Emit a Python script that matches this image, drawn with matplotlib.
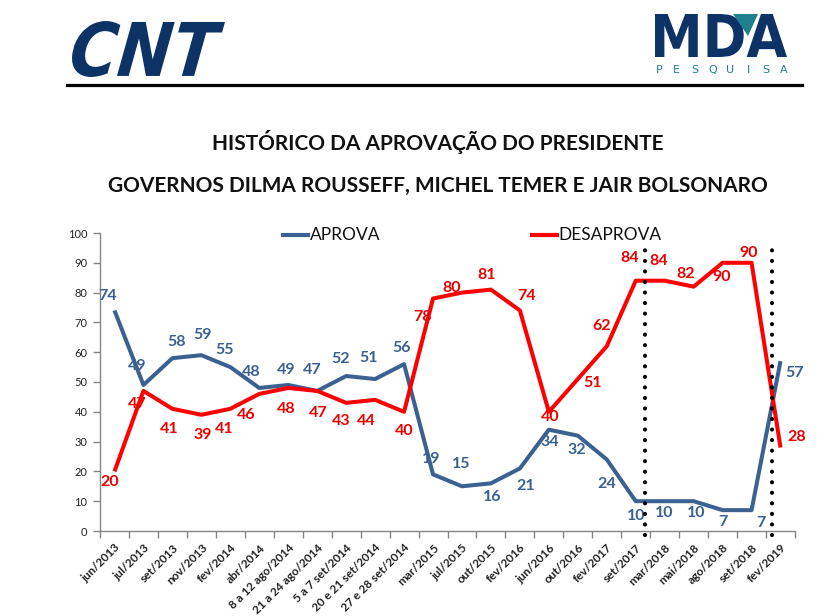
import matplotlib
matplotlib.use("Agg")
import matplotlib.pyplot as plt
from matplotlib.textpath import TextPath
from matplotlib.font_manager import FontProperties
from matplotlib.patches import PathPatch, Polygon
from matplotlib.lines import Line2D
from matplotlib.transforms import Affine2D

# ---------------- data ----------------
categories = ["jun/2013", "jul/2013", "set/2013", "nov/2013", "fev/2014", "abr/2014",
              "8 a 12 ago/2014", "21 a 24 ago/2014", "5 a 7 set/2014", "20 e 21 set/2014",
              "27 e 28 set/2014", "mar/2015", "jul/2015", "out/2015", "fev/2016", "jun/2016",
              "out/2016", "fev/2017", "set/2017", "mar/2018", "mai/2018", "ago/2018",
              "set/2018", "fev/2019"]
aprova = [74, 49, 58, 59, 55, 48, 49, 47, 52, 51, 56, 19, 15, 16, 21, 34, 32, 24, 10, 10, 10, 7, 7, 57]
desaprova = [20, 47, 41, 39, 41, 46, 48, 47, 43, 44, 40, 78, 80, 81, 74, 40, 51, 62, 84, 84, 82, 90, 90, 28]

# label offsets (pixels) -- styling only
aprova_off = [(-7, 14), (-6, 19), (4, 16), (1, 20), (-6, 17), (-8, 16), (-2, 15), (-5, 21),
              (-5, 17), (-7, 21), (-2, 16), (-2, 15), (-1, 22), (1, -14), (6, -18), (1, -12),
              (-1, -14), (0, -25), (0, -15), (0, -12), (3, -12), (0, -12), (9, -13), (14, -12)]
desaprova_off = [(-5, -11), (-6, -13), (-3, -20), (1, -20), (-6, -20), (-13, -21), (-2, -21),
                 (1, -22), (-5, -18), (-9, -21), (0, -19), (-11, -18), (-10, 5), (-4, 15),
                 (7, 14), (1, -5), (15, -4), (-5, 20), (-6, 23), (-6, 20), (-8, 13), (-1, -14),
                 (-3, 10), (16, 11)]

BLUE = "#3a6190"
RED = "#ff0000"
RED_TXT = "#ee0000"
NAVY = "#0d3366"
TEAL = "#1f7f8c"
GRAY = "#868686"

W, H = 832, 616
fig = plt.figure(figsize=(W / 100, H / 100), dpi=100)
fig.patch.set_facecolor("white")

ax = fig.add_axes([100 / W, 1 - 531 / H, 695 / W, 298 / H])
x = list(range(len(categories)))

ax.plot(x, aprova, color=BLUE, lw=2.9, solid_joinstyle="round", solid_capstyle="butt", zorder=3)
ax.plot(x, desaprova, color=RED, lw=2.9, solid_joinstyle="round", solid_capstyle="butt", zorder=3)

for xi, v, (dx, dy) in zip(x, aprova, aprova_off):
    ax.annotate(str(v), (xi, v), xytext=(dx, dy), textcoords="offset pixels",
                ha="center", va="center", color=BLUE, fontsize=11.5,
                fontweight="bold", family="Lato", zorder=5)
for xi, v, (dx, dy) in zip(x, desaprova, desaprova_off):
    ax.annotate(str(v), (xi, v), xytext=(dx, dy), textcoords="offset pixels",
                ha="center", va="center", color=RED_TXT, fontsize=11.5,
                fontweight="bold", family="Lato", zorder=5)

# dotted government separators
for xv, ytop in [(18.32, 97.5), (22.70, 97.0)]:
    ax.plot([xv, xv], [-1.5, ytop], color="black", lw=3.0, linestyle=(0, (0.01, 2.52)),
            dash_capstyle="round", clip_on=False, zorder=6)

ax.set_xlim(-0.5, len(categories) - 0.5)
ax.set_ylim(0, 100)
ax.set_yticks(range(0, 101, 10))
ax.set_xticks(x)
ax.set_xticklabels(categories, rotation=45, ha="right", rotation_mode="anchor",
                   fontsize=8.5, fontweight="bold", family="Lato", color="#222222")
ax.set_xticks([i - 0.5 for i in range(len(categories) + 1)], minor=True)
ax.tick_params(axis="x", which="major", length=0, pad=8)
ax.tick_params(axis="x", which="minor", length=5, color=GRAY, width=1)
ax.tick_params(axis="y", length=5, color=GRAY, width=1, labelsize=8, labelcolor="#222222", pad=4)
for lab in ax.get_yticklabels():
    lab.set_family("Lato")
for s in ["top", "right"]:
    ax.spines[s].set_visible(False)
for s in ["left", "bottom"]:
    ax.spines[s].set_color(GRAY)
    ax.spines[s].set_linewidth(1)

def fx(px):
    return px / W
def fy(py):
    return 1 - py / H

# legend (manual)
fig.add_artist(Line2D([fx(283), fx(308)], [fy(235), fy(235)], color=BLUE, lw=3))
fig.text(fx(310), fy(235), "APROVA", ha="left", va="center", fontsize=12.5, family="Lato", color="#111111")
fig.add_artist(Line2D([fx(532), fx(557)], [fy(235), fy(235)], color=RED, lw=3))
fig.text(fx(558), fy(235), "DESAPROVA", ha="left", va="center", fontsize=12.5, family="Lato", color="#111111")

# titles
fig.text(fx(438), fy(142), "HISTÓRICO DA APROVAÇÃO DO PRESIDENTE", ha="center", va="center",
         fontsize=15, fontweight="bold", family="Lato", color="#111111")
fig.text(fx(438), fy(186), "GOVERNOS DILMA ROUSSEFF, MICHEL TEMER E JAIR BOLSONARO", ha="center",
         va="center", fontsize=15, fontweight="bold", family="Lato", color="#111111")

# logos
def text_in_box(s, x0, y0, x1, y1, color, prop, skew=0.0):
    tp = TextPath((0, 0), s, prop=prop)
    ext = tp.get_extents()
    tr0 = Affine2D().translate(-ext.x0, -ext.y0).skew(skew, 0)
    p2 = tr0.transform_path(tp)
    e2 = p2.get_extents()
    sx = (x1 - x0) / e2.width
    sy = (y1 - y0) / e2.height
    tr = (tr0 + Affine2D().translate(-e2.x0, -e2.y0).scale(sx / W, sy / H)
          .translate(x0 / W, 1 - y1 / H) + fig.transFigure)
    fig.add_artist(PathPatch(tp, transform=tr, facecolor=color, edgecolor="none"))

text_in_box("CNT", 72, 21, 225, 77, NAVY,
            FontProperties(family="DejaVu Sans", weight="bold", style="oblique"), skew=0.12)
text_in_box("MDA", 655, 14, 787, 57, NAVY,
            FontProperties(family="DejaVu Sans", weight="bold"))
fig.add_artist(Polygon([[fx(733), fy(14)], [fx(758), fy(14)], [fx(748), fy(36)]],
                       closed=True, facecolor=TEAL, edgecolor="none", transform=fig.transFigure))
for i, ch in enumerate("PESQUISA"):
    fig.text(fx(659 + i * 17.8), fy(70), ch, ha="center", va="center", fontsize=8,
             family="DejaVu Sans", color=TEAL)

fig.add_artist(Line2D([fx(67), fx(802)], [fy(85), fy(85)], color="black", lw=2.3))

fig.savefig("out.png", dpi=100, facecolor="white")
